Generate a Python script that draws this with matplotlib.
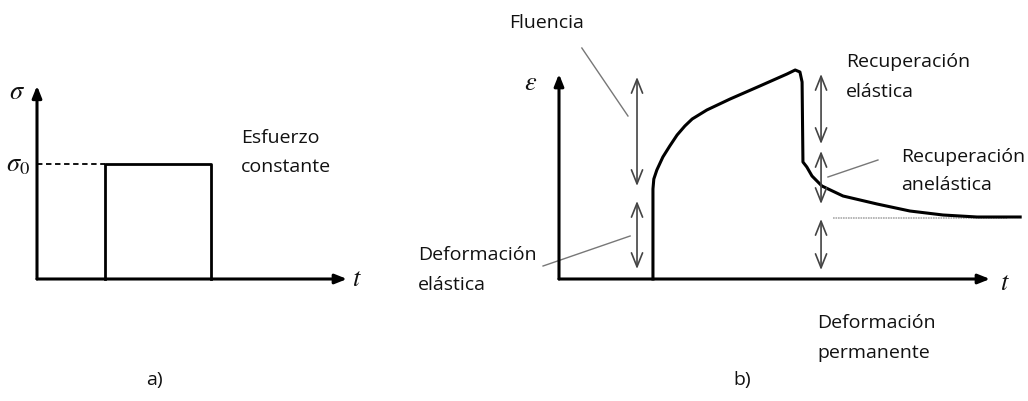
import matplotlib.pyplot as plt
import numpy as np

plt.rcParams['font.family'] = ['Open Sans', 'DejaVu Sans']
plt.rcParams['mathtext.fontset'] = 'stix'

W, H = 1028, 402

# panel a) constant stress step
a_t_max, a_sig_max = 10.0, 1.68
a_t_on, a_t_off = 2.2, 5.6
a_sig0 = 1.0

# panel b) strain response
b_t = [2.18, 2.18, 2.20, 2.27, 2.41, 2.57, 2.74, 2.92, 3.09, 3.43, 3.97, 4.66, 5.29, 5.48, 5.59,
       5.64, 5.66, 5.75, 5.87, 6.10, 6.59, 7.38, 8.14, 8.91, 9.70, 10.70]
b_eps = [0.0, 4.5, 5.0, 5.45, 6.1, 6.65, 7.2, 7.65, 8.0, 8.45, 9.0, 9.65, 10.25, 10.45, 10.35,
         9.85, 5.85, 5.6, 5.15, 4.65, 4.15, 3.75, 3.4, 3.2, 3.1, 3.1]
b_t_max, b_eps_max = 10.0, 10.25
b_eps_perm = 3.05
b_perm_span = [6.36, 10.39]

# double arrows: (t, eps_low, eps_high)
b_arrows = [(1.81, 4.65, 10.1), (1.81, 0.5, 3.9),
            (6.08, 6.75, 10.25), (6.08, 3.75, 6.4), (6.08, 0.45, 3.0)]
# leader lines: (t0, e0, t1, e1)
b_leaders = [(0.53, 11.55, 1.60, 8.15), (-0.37, 0.65, 1.65, 2.15),
             (7.40, 5.95, 6.24, 5.1)]


def panel(fig, x0, y0, sx, sy):
    # axes over the whole figure, origin at pixel (x0, y0) from top-left
    ax = fig.add_axes([0, 0, 1, 1])
    ax.set_xlim(-x0 / sx, (W - x0) / sx)
    ax.set_ylim((y0 - H) / sy, y0 / sy)
    ax.axis('off')
    ax.patch.set_alpha(0)
    return ax


def axis_arrow(ax, x0, y0, x1, y1):
    ax.annotate('', xy=(x1, y1), xytext=(x0, y0),
                arrowprops=dict(arrowstyle='-|>,head_length=0.7,head_width=0.28',
                                lw=2.2, color='black', shrinkA=0, shrinkB=0))


fig = plt.figure(figsize=(W / 100, H / 100), dpi=100)
txt = dict(fontsize=14, color='#111111')
sym = dict(fontsize=19, color='#111111')

# ---- a) ----
ax = panel(fig, 37, 280, 31, 115)
axis_arrow(ax, 0, 0, 0, a_sig_max)
axis_arrow(ax, 0, 0, a_t_max, 0)
ax.plot([a_t_on, a_t_on, a_t_off, a_t_off], [0, a_sig0, a_sig0, 0], color='black', lw=2)
ax.plot([0, a_t_on], [a_sig0, a_sig0], color='black', lw=1.3, ls=(0, (3, 2)))
ax.text(-0.65, 1.63, r'$\sigma$', ha='center', va='center', **sym)
ax.text(-0.6, 1.0, r'$\sigma_0$', ha='center', va='center', **sym)
ax.text(10.32, 0, r'$t$', ha='center', va='center', **sym)
ax.text(6.58, 1.235, 'Esfuerzo', ha='left', va='center', **txt)
ax.text(6.58, 0.983, 'constante', ha='left', va='center', **txt)
ax.text(3.8, -0.87, 'a)', ha='center', va='center', **txt)

# ---- b) ----
bx = panel(fig, 559, 280, 43.1, 20)
axis_arrow(bx, 0, 0, 0, b_eps_max)
axis_arrow(bx, 0, 0, b_t_max, 0)
bx.plot(b_perm_span, [b_eps_perm, b_eps_perm], color='#aaaaaa', lw=1.2, ls=(0, (1, 0.5)))
bx.plot(b_t, b_eps, color='black', lw=2.2, solid_joinstyle='round')
for t, lo, hi in b_arrows:
    bx.annotate('', xy=(t, hi), xytext=(t, lo),
                arrowprops=dict(arrowstyle='<->,head_length=1.0,head_width=0.4',
                                lw=1.2, color='#444444', shrinkA=0, shrinkB=0))
for t0, e0, t1, e1 in b_leaders:
    bx.plot([t0, t1], [e0, e1], color='#777777', lw=1)

bx.text(-0.67, 9.85, r'$\varepsilon$', ha='center', va='center', **sym)
bx.text(10.35, -0.15, r'$t$', ha='center', va='center', **sym)
bx.text(-0.28, 12.85, 'Fluencia', ha='center', va='center', **txt)
bx.text(-3.27, 1.25, 'Deformación', ha='left', va='center', **txt)
bx.text(-3.27, -0.25, 'elástica', ha='left', va='center', **txt)
bx.text(6.66, 10.9, 'Recuperación', ha='left', va='center', **txt)
bx.text(6.66, 9.4, 'elástica', ha='left', va='center', **txt)
bx.text(7.94, 6.15, 'Recuperación', ha='left', va='center', **txt)
bx.text(7.94, 4.75, 'anelástica', ha='left', va='center', **txt)
bx.text(5.99, -2.15, 'Deformación', ha='left', va='center', **txt)
bx.text(5.99, -3.65, 'permanente', ha='left', va='center', **txt)
bx.text(4.25, -5.0, 'b)', ha='center', va='center', **txt)

fig.savefig('out.png', dpi=100, facecolor='white')
